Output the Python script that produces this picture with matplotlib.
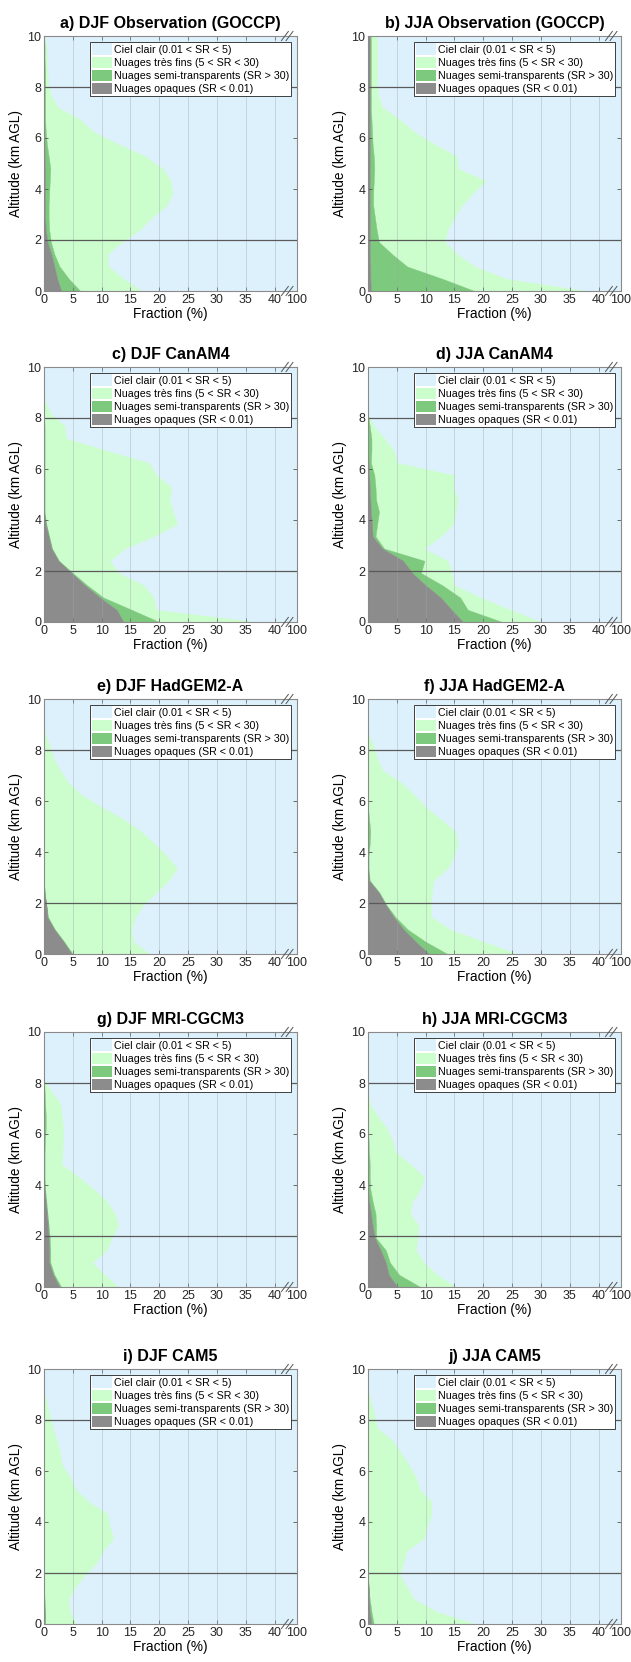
import numpy as np
import matplotlib.pyplot as plt
from matplotlib.patches import Patch

plt.rcParams['font.family'] = ['Liberation Sans', 'DejaVu Sans']

# altitude levels (km AGL)
alt = [0, 0.48, 0.96, 1.44, 1.92, 2.4, 2.88, 3.36, 3.84, 4.32, 4.8,
       5.28, 5.76, 6.24, 6.72, 7.2, 7.68, 8.16, 8.64, 9.12, 9.6, 10.08]

titles = ['a) DJF Observation (GOCCP)', 'b) JJA Observation (GOCCP)',
          'c) DJF CanAM4', 'd) JJA CanAM4',
          'e) DJF HadGEM2-A', 'f) JJA HadGEM2-A',
          'g) DJF MRI-CGCM3', 'h) JJA MRI-CGCM3',
          'i) DJF CAM5', 'j) JJA CAM5']

labels = ['Ciel clair (0.01 < SR < 5)', 'Nuages très fins (5 < SR < 30)',
          'Nuages semi-transparents (SR > 30)', 'Nuages opaques (SR < 0.01)']

# fractions (%) per level: opaque, semi-transparent, very thin
a_opaque = [3.0, 2.3, 1.8, 1.3, 0.6, 0.3, 0.2, 0.2, 0.2, 0.2, 0.2, 0.1, 0.1, 0, 0, 0, 0, 0, 0, 0, 0, 0]
a_semi = [3.3, 2.0, 0.9, 0.5, 0.6, 0.6, 0.6, 0.6, 0.7, 0.8, 0.9, 0.7, 0.4, 0.3, 0.2, 0.2, 0.2, 0.2, 0.2, 0.1, 0.1, 0]
a_thin = [10.7, 9.5, 8.5, 9.2, 12.3, 15.7, 17.9, 20.5, 21.4, 21.0, 19.5, 16.8, 12.4, 8.3, 6.1, 2.2, 1.0, 0.5, 0.4, 0.4, 0.3, 0]

b_opaque = [0.5, 0.4, 0.4, 0.3, 0.3, 0.3, 0.3, 0.3, 0.3, 0.3, 0.3, 0.3, 0.3, 0.3, 0.3, 0.3, 0.3, 0.3, 0.3, 0.3, 0.3, 0.3]
b_semi = [18.0, 12.5, 6.4, 3.9, 1.6, 1.2, 0.9, 0.6, 0.6, 0.7, 0.8, 0.7, 0.5, 0.4, 0.3, 0.2, 0.2, 0.2, 0.2, 0.2, 0.2, 0.2]
b_thin = [19.5, 11.1, 11.7, 11.3, 11.4, 12.3, 13.8, 15.4, 17.3, 19.4, 14.5, 14.4, 10.7, 7.3, 4.9, 2.0, 1.3, 1.1, 1.1, 1.1, 1.1, 1.1]

c_opaque = [13.8, 12.6, 9.7, 7.1, 4.8, 2.5, 1.3, 0.8, 0.3, 0, 0, 0, 0, 0, 0, 0, 0, 0, 0, 0, 0, 0]
c_semi = [6.2, 2.6, 0.6, 0.4, 0.2, 0.1, 0.1, 0.1, 0.1, 0.1, 0.1, 0.1, 0.1, 0.1, 0.1, 0.1, 0.1, 0, 0, 0, 0, 0]
c_thin = [16.9, 4.3, 8.7, 9.8, 7.9, 8.8, 12.6, 18.1, 22.7, 22.3, 21.7, 22.0, 19.4, 18.1, 10.8, 3.7, 3.5, 1.2, 0.2, 0, 0, 0]

d_opaque = [16.5, 14.5, 12.6, 10.0, 7.7, 6.1, 2.5, 0.8, 0.7, 0.5, 0.4, 0.3, 0.2, 0.1, 0, 0, 0, 0, 0, 0, 0, 0]
d_semi = [6.8, 2.8, 3.4, 2.9, 1.5, 3.7, 0.3, 0.5, 0.9, 1.4, 1.0, 1.0, 0.9, 0.4, 0.6, 0.6, 0.3, 0, 0, 0, 0, 0]
d_thin = [6.7, 7.4, 3.5, 2.0, 5.4, 4.0, 6.9, 11.3, 13.2, 13.3, 14.2, 13.5, 13.8, 4.6, 3.9, 2.2, 0.7, 0, 0, 0, 0, 0]

e_opaque = [4.8, 3.4, 1.8, 0.6, 0.4, 0.1, 0, 0, 0, 0, 0, 0, 0, 0, 0, 0, 0, 0, 0, 0, 0, 0]
e_semi = [0.2, 0.1, 0.1, 0.1, 0, 0, 0, 0, 0, 0, 0, 0, 0, 0, 0, 0, 0, 0, 0, 0, 0, 0]
e_thin = [13.3, 12.0, 13.3, 15.1, 16.8, 19.3, 21.6, 23.1, 21.3, 19.2, 16.9, 13.8, 10.0, 6.5, 4.2, 2.8, 1.6, 1.0, 0.2, 0, 0, 0]

f_opaque = [10.6, 8.3, 6.2, 4.5, 3.1, 1.9, 0.2, 0, 0, 0, 0, 0, 0, 0, 0, 0, 0, 0, 0, 0, 0, 0]
f_semi = [3.2, 1.7, 0.7, 0.3, 0.1, 0.1, 0.1, 0.1, 0.1, 0.3, 0.4, 0.2, 0, 0, 0, 0, 0, 0, 0, 0, 0, 0]
f_thin = [12.1, 10.1, 7.4, 6.2, 7.7, 9.1, 11.0, 13.7, 14.8, 15.3, 14.8, 12.4, 10.0, 8.0, 5.8, 2.5, 1.6, 1.0, 0, 0, 0, 0]

g_opaque = [2.7, 1.6, 0.9, 0.9, 0.8, 0.7, 0.5, 0.3, 0.1, 0, 0, 0, 0, 0, 0, 0, 0, 0, 0, 0, 0, 0]
g_semi = [0.3, 0.2, 0.2, 0.2, 0.2, 0.1, 0.1, 0.1, 0.1, 0.1, 0.1, 0.1, 0.2, 0.3, 0.3, 0.2, 0.1, 0, 0, 0, 0, 0]
g_thin = [9.9, 8.7, 7.3, 9.8, 10.7, 12.1, 11.7, 10.5, 8.4, 5.9, 3.0, 3.1, 3.1, 3.0, 2.8, 2.6, 1.1, 0, 0, 0, 0, 0]

h_opaque = [5.1, 3.6, 3.1, 2.2, 1.2, 0.8, 0.5, 0.2, 0, 0, 0, 0, 0, 0, 0, 0, 0, 0, 0, 0, 0, 0]
h_semi = [4.0, 1.8, 0.7, 0.9, 0.2, 0.6, 0.8, 0.6, 0.4, 0.3, 0.3, 0.2, 0.1, 0, 0, 0, 0, 0, 0, 0, 0, 0]
h_thin = [6.1, 6.6, 5.9, 5.2, 7.2, 7.4, 6.0, 6.9, 8.7, 9.4, 7.1, 4.6, 4.1, 3.2, 1.6, 0.3, 0, 0, 0, 0, 0, 0]

i_opaque = [0.1, 0.1, 0, 0, 0, 0, 0, 0, 0, 0, 0, 0, 0, 0, 0, 0, 0, 0, 0, 0, 0, 0]
i_semi = [0.1, 0.1, 0.1, 0, 0, 0, 0, 0, 0, 0, 0, 0, 0, 0, 0, 0, 0, 0, 0, 0, 0, 0]
i_thin = [5.3, 4.3, 4.1, 5.4, 7.1, 9.1, 10.3, 12.0, 11.4, 11.0, 7.7, 5.5, 4.5, 3.1, 2.8, 2.2, 1.5, 1.0, 0.5, 0, 0, 0]

j_opaque = [0.6, 0.3, 0.2, 0.1, 0, 0, 0, 0, 0, 0, 0, 0, 0, 0, 0, 0, 0, 0, 0, 0, 0, 0]
j_semi = [0.4, 0.3, 0.1, 0, 0, 0, 0, 0, 0, 0, 0, 0, 0, 0, 0, 0, 0, 0, 0, 0, 0, 0]
j_thin = [17.7, 11.4, 7.7, 6.7, 5.5, 6.1, 6.7, 9.7, 10.3, 11.0, 11.0, 9.0, 8.3, 7.1, 5.7, 4.2, 1.6, 1.2, 0.6, 0, 0, 0]

panels = [(a_opaque, a_semi, a_thin), (b_opaque, b_semi, b_thin),
          (c_opaque, c_semi, c_thin), (d_opaque, d_semi, d_thin),
          (e_opaque, e_semi, e_thin), (f_opaque, f_semi, f_thin),
          (g_opaque, g_semi, g_thin), (h_opaque, h_semi, h_thin),
          (i_opaque, i_semi, i_thin), (j_opaque, j_semi, j_thin)]

c_sky = '#ddf1fd'
c_thin = '#ccfdcc'
c_semi = '#7dc97d'
c_opq = '#8c8c8c'

xend = 43.9  # axis end, labelled 100 (broken axis)
W, H = 631, 1662
fig = plt.figure(figsize=(W / 100, H / 100), dpi=100)

col_left = [44, 368]
row_bottom = [291, 622, 954, 1287, 1624]
ax_w, ax_h = 253, 255

z = np.array(alt)
for k, (opq, semi, thin) in enumerate(panels):
    r, c = divmod(k, 2)
    ax = fig.add_axes([col_left[c] / W, 1 - row_bottom[r] / H, ax_w / W, ax_h / H])
    o = np.array(opq)
    s = o + np.array(semi)
    t = s + np.array(thin)
    ax.fill_betweenx(z, t, 100, color=c_sky, lw=0.3)
    ax.fill_betweenx(z, s, t, color=c_thin, lw=0.3)
    ax.fill_betweenx(z, o, s, color=c_semi, lw=0.3)
    ax.fill_betweenx(z, 0, o, color=c_opq, lw=0.3)

    for xv in range(5, 41, 5):
        ax.axvline(xv, color='#9aa7b0', lw=0.6, alpha=0.45, zorder=3)
    for yv in (2, 8):
        ax.axhline(yv, color='#5a5a5a', lw=0.9, zorder=3)

    ax.set_xlim(0, xend)
    ax.set_ylim(0, 10)
    ax.set_xticks(list(range(0, 41, 5)) + [xend])
    ax.set_xticklabels([str(v) for v in range(0, 41, 5)] + ['100'])
    ax.set_yticks(range(0, 11, 2))
    ax.tick_params(direction='in', top=True, right=True, length=3, width=0.6,
                   color='#555555', labelsize=9, labelcolor='#262626', pad=2)
    for sp in ax.spines.values():
        sp.set_color('#8a8a8a')
        sp.set_linewidth(0.8)
        sp.set_zorder(5)

    # break marks on the x axis
    for yb in (0, 1):
        for dx in (0, 0.8):
            ax.plot([41.2 + dx, 42.4 + dx], [yb - 0.018, yb + 0.018],
                    transform=ax.get_xaxis_transform(), color='#555555',
                    lw=0.7, clip_on=False, zorder=6)

    ax.set_title(titles[k], fontsize=11.5, fontweight='bold', pad=6)
    ax.set_xlabel('Fraction (%)', fontsize=9.8, labelpad=1)
    ax.set_ylabel('Altitude (km AGL)', fontsize=9.8, labelpad=3)

    handles = [Patch(facecolor=c_sky), Patch(facecolor=c_thin),
               Patch(facecolor=c_semi), Patch(facecolor=c_opq)]
    leg = ax.legend(handles, labels, loc='upper right', fontsize=7.7,
                    frameon=True, fancybox=False, framealpha=1,
                    edgecolor='#222222', handlelength=1.9, handleheight=1.25,
                    labelspacing=0.18, handletextpad=0.2, borderpad=0.15,
                    borderaxespad=0.55)
    leg.get_frame().set_linewidth(0.6)
    leg.set_zorder(7)

fig.savefig('out.png', dpi=100)
